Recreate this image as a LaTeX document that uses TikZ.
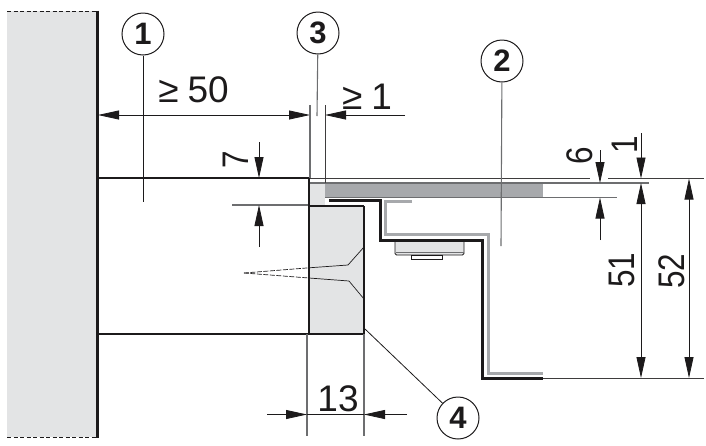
\documentclass[tikz,border=0pt]{standalone}
\usepackage{fontspec}
\setmainfont{Liberation Sans}
\usetikzlibrary{arrows.meta}
\definecolor{wallgray}{HTML}{E3E4E5}
\definecolor{bargray}{HTML}{A7A9AC}
\definecolor{inkdark}{HTML}{1C1A1B}
\definecolor{extgray}{HTML}{6D6E70}
\tikzset{
  thinline/.style={draw=inkdark!85,line width=0.9pt},
  extline/.style={draw=extgray,line width=1.1pt},
  medline/.style={draw=inkdark,line width=1.5pt},
  heavyline/.style={draw=inkdark,line width=2pt},
  dimtip/.style={-{Triangle[length=21pt,width=9pt]},draw=inkdark,line width=0.8pt},
  dimlabel/.style={font=\fontsize{37}{37}\selectfont,text=inkdark,inner sep=0pt},
  dimlabelup/.style={dimlabel,rotate=90,xscale=0.85},
  callout/.style={circle,draw=inkdark,line width=1pt,fill=white,minimum size=42pt,inner sep=0pt,font=\fontsize{31}{31}\selectfont\bfseries,text=inkdark},
  leader/.style={draw=inkdark,line width=0.8pt},
  leadergray/.style={draw=extgray,line width=1.1pt},
}
\begin{document}
\begin{tikzpicture}[x=1pt,y=-1pt]
\useasboundingbox (0,0) rectangle (706,445);
% wall
\fill[wallgray] (7,11) rectangle (97,437);
\draw[inkdark,line width=0.8pt,dash pattern=on 4pt off 2.5pt] (7,11) -- (97,11);
\draw[inkdark,line width=0.8pt,dash pattern=on 4pt off 2.5pt] (7,437) -- (97,437);
\draw[inkdark,line width=2.3pt] (97.5,10.5) -- (97.5,437.5);
% cabinet part, block 4 and panel
\fill[wallgray] (309,183) rectangle (325,206);
\fill[wallgray] (309,206) rectangle (364,334);
\fill[bargray] (325,183.5) rectangle (543,197);
% fine lines
\draw[medline,line width=1.4pt] (98,178) -- (309,178);
\coordinate (topA) at (309,178.5);
\coordinate (topB) at (590,178.5);
\coordinate (topC) at (608,178.5);
\coordinate (topD) at (704,178.5);
\draw[thinline] (topA) -- (topB);
\draw[thinline] (topC) -- (topD);
\coordinate (panA) at (309,183);
\coordinate (panB) at (649,183);
\draw[extline] (panA) -- (panB);
\coordinate (panC) at (325,197.5);
\coordinate (panD) at (617,197.5);
\draw[extline] (panC) -- (panD);
\coordinate (ext7) at (232,205);
\coordinate (ext7b) at (310,205);
\draw[extline] (ext7) -- (ext7b);
% block outlines
\draw[heavyline] (98,333.5) -- (364,333.5);
\draw[medline,line width=2pt] (309,178) -- (309,334);
\draw[medline,line width=2pt] (309,206) -- (364,206);
\draw[medline,line width=1.8pt] (364,206) -- (364,334);
% screw
\draw[draw=inkdark,line width=0.7pt,dash pattern=on 5pt off 1.5pt] (244,273) -- (309,267.8);
\draw[draw=inkdark,line width=0.7pt,dash pattern=on 5pt off 1.5pt] (244,273) -- (309,278);
\draw[draw=inkdark,line width=0.7pt] (309,267.8) -- (348,265) -- (364,247);
\draw[draw=inkdark,line width=0.7pt] (309,278) -- (349,281) -- (364,299);
% hinge
\draw[fill=wallgray,draw=inkdark,line width=0.9pt,rounded corners=1.5pt] (395,240) -- (395,255) -- (464,255) -- (464,240);
\draw[draw=extgray,line width=1pt] (395.5,252) -- (463.5,252);
\draw[draw=inkdark,line width=0.8pt,fill=white] (411,255.5) rectangle (442,259);
% profile
\draw[draw=bargray,line width=3pt,miter limit=10] (412,201.5) -- (385,201.5) -- (385,234.5) -- (488,234.5) -- (488,373.5) -- (543,373.5);
\draw[draw=inkdark,line width=3pt] (329,200) -- (380,200) -- (380,240) -- (482.5,240) -- (482.5,378) -- (543,378);
% dimension ≥50 / ≥1
\coordinate (wallface) at (98,115);
\coordinate (ext3a) at (310,115);
\coordinate (ext3b) at (325,115);
\coordinate (end1) at (405,115);
\coordinate (mid50) at (204,115);
\draw[dimtip] (mid50) -- (wallface);
\draw[dimtip] (mid50) -- (ext3a);
\draw[dimtip] (end1) -- (ext3b);
\coordinate (ve1) at (310,105);
\coordinate (ve1b) at (310,178);
\coordinate (ve2) at (325,105);
\coordinate (ve2b) at (325,183);
\draw[extline] (ve1) -- (ve1b);
\draw[thinline] (ve2) -- (ve2b);
\node[dimlabel] (l50) at (193.5,90) {≥\hspace{9pt}50};
\node[dimlabel] (l1a) at (367,97) {≥\hspace{9pt}1};
% dimension 7
\coordinate (d7a) at (259,142);
\coordinate (d7b) at (259,178);
\coordinate (d7c) at (259,247);
\coordinate (d7d) at (259,205);
\draw[dimtip] (d7a) -- (d7b);
\draw[dimtip] (d7c) -- (d7d);
\node[dimlabelup] (l7) at (236,160) {7};
% dimension 6
\coordinate (d6a) at (600,150);
\coordinate (d6b) at (600,183);
\coordinate (d6c) at (600,240);
\coordinate (d6d) at (600,197.5);
\draw[dimtip] (d6a) -- (d6b);
\draw[dimtip] (d6c) -- (d6d);
\node[dimlabelup] (l6) at (580,156) {6};
% dimension 1 / 51
\coordinate (d1a) at (641,133);
\coordinate (d1b) at (641,178.5);
\coordinate (d51a) at (641,260);
\coordinate (d51b) at (641,183);
\coordinate (d51c) at (641,378);
\draw[dimtip] (d1a) -- (d1b);
\draw[dimtip] (d51a) -- (d51b);
\draw[dimtip] (d51a) -- (d51c);
\node[dimlabelup] (l1b) at (625,145) {1};
\node[dimlabelup] (l51) at (622,270) {51};
% dimension 52
\coordinate (d52a) at (689,260);
\coordinate (d52b) at (689,178.5);
\coordinate (d52c) at (689,378);
\draw[dimtip] (d52a) -- (d52b);
\draw[dimtip] (d52a) -- (d52c);
\node[dimlabelup] (l52) at (672,271) {52};
\coordinate (base1) at (543,378.5);
\coordinate (base2) at (704,378.5);
\draw[thinline] (base1) -- (base2);
% dimension 13
\coordinate (v13a) at (307,334);
\coordinate (v13b) at (307,436);
\coordinate (v13c) at (364,334);
\coordinate (v13d) at (364,436);
\draw[extline] (v13a) -- (v13b);
\draw[extline] (v13c) -- (v13d);
\coordinate (d13a) at (267,414.5);
\coordinate (d13b) at (307,414.5);
\coordinate (d13c) at (407,414.5);
\coordinate (d13d) at (364,414.5);
\draw[dimtip] (d13a) -- (d13b);
\draw[dimtip] (d13c) -- (d13d);
\draw[draw=inkdark,line width=0.8pt] (d13b) -- (d13d);
\node[dimlabel] (l13) at (338,399) {13};
% callouts
\node[callout] (c1) at (143,34) {1};
\node[callout] (c2) at (502,61) {2};
\node[callout] (c3) at (318,33) {3};
\node[callout] (c4) at (458,418) {4};
\coordinate (t1) at (143,202);
\coordinate (t2) at (501,246);
\coordinate (t3) at (317,116);
\coordinate (t4) at (365,329);
\draw[leader] (c1) -- (t1);
\draw[leadergray] (c2) -- (t2);
\draw[leadergray] (c3) -- (t3);
\draw[leader] (t4) -- (c4);
\end{tikzpicture}
\end{document}
